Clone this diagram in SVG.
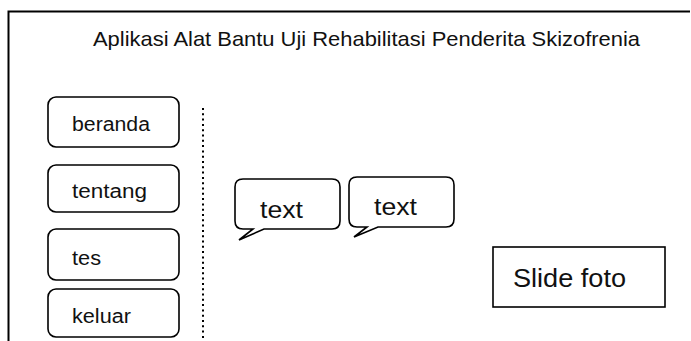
<svg xmlns="http://www.w3.org/2000/svg" width="691" height="341" viewBox="0 0 691 341">
<style>
.t{font-family:"Liberation Sans",Arial,sans-serif;fill:#111}
.box{fill:#fff;stroke:#000;stroke-width:1.6}
.frame{fill:none;stroke:#000;stroke-width:2}
</style>
<rect width="691" height="341" fill="#fff"/>
<g id="frame">
<path class="frame" d="M8.5,341 V11.5 H690"/>
<text class="t" x="93" y="46" font-size="21" textLength="547" lengthAdjust="spacingAndGlyphs">Aplikasi Alat Bantu Uji Rehabilitasi Penderita Skizofrenia</text>
</g>
<g id="connectors">
<line x1="203" y1="108" x2="203" y2="341" stroke="#000" stroke-width="2" stroke-dasharray="2 3.3"/>
</g>
<g id="beranda">
<rect class="box" x="48" y="97" width="131" height="50" rx="8"/>
<text class="t" x="72" y="131" font-size="20" textLength="78" lengthAdjust="spacingAndGlyphs">beranda</text>
</g>
<g id="tentang">
<rect class="box" x="48" y="165" width="131" height="47" rx="8"/>
<text class="t" x="72" y="198" font-size="20" textLength="75" lengthAdjust="spacingAndGlyphs">tentang</text>
</g>
<g id="tes">
<rect class="box" x="48" y="229" width="131" height="51" rx="8"/>
<text class="t" x="72" y="265" font-size="20" textLength="29" lengthAdjust="spacingAndGlyphs">tes</text>
</g>
<g id="keluar">
<rect class="box" x="48" y="289" width="131" height="48" rx="8"/>
<text class="t" x="72" y="323" font-size="20" textLength="59" lengthAdjust="spacingAndGlyphs">keluar</text>
</g>
<g id="bubble1">
<path class="box" d="M243,179 H332 Q340,179 340,187 V221 Q340,229 332,229 H264 L239,240 L253,229 H243 Q235,229 235,221 V187 Q235,179 243,179 Z"/>
<text class="t" x="260" y="218" font-size="24" textLength="43" lengthAdjust="spacingAndGlyphs">text</text>
</g>
<g id="bubble2">
<path class="box" d="M357,177 H446 Q454,177 454,185 V219 Q454,227 446,227 H378 L354,237 L367,227 H357 Q349,227 349,219 V185 Q349,177 357,177 Z"/>
<text class="t" x="374" y="215" font-size="24" textLength="43" lengthAdjust="spacingAndGlyphs">text</text>
</g>
<g id="slide">
<rect class="box" x="493" y="247" width="172" height="60"/>
<text class="t" x="513" y="287" font-size="25" textLength="113" lengthAdjust="spacingAndGlyphs">Slide foto</text>
</g>
</svg>
